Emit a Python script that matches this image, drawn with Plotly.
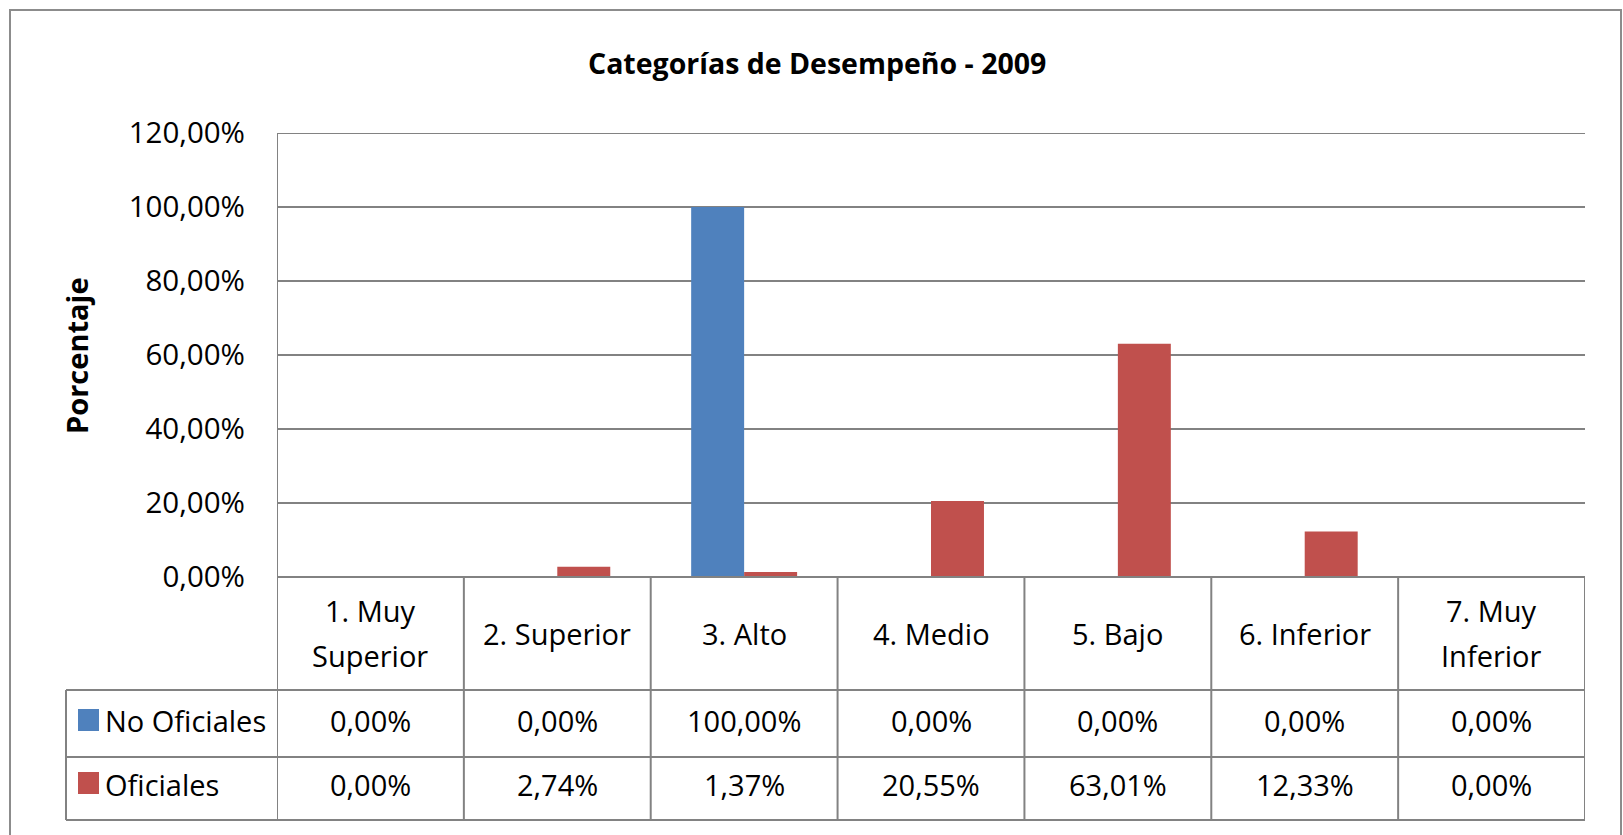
import plotly.graph_objects as go

# ---------------- data ----------------
categories = ["1. Muy Superior", "2. Superior", "3. Alto", "4. Medio",
              "5. Bajo", "6. Inferior", "7. Muy Inferior"]
header_labels = ["1. Muy<br>Superior", "2. Superior", "3. Alto", "4. Medio",
                 "5. Bajo", "6. Inferior", "7. Muy<br>Inferior"]
series_names = ["No Oficiales", "Oficiales"]
no_oficiales = [0.00, 0.00, 100.00, 0.00, 0.00, 0.00, 0.00]
oficiales = [0.00, 2.74, 1.37, 20.55, 63.01, 12.33, 0.00]
series_values = [no_oficiales, oficiales]
series_colors = ["#4F81BD", "#C0504D"]
y_ticks = [0, 20, 40, 60, 80, 100, 120]
title_text = "Categorías de Desempeño - 2009"
y_title = "Porcentaje"


def fmt(v):
    return f"{v:.2f}".replace(".", ",") + "%"


# ---------------- geometry (pixels) ----------------
W, H = 1623, 835
L, R, T, B = 277, 1585, 133, 577
PW, PH = R - L, B - T
FONT = "Open Sans"
GRID = "#828282"


def px(x):
    return (x - L) / PW


def py(y):
    return (B - y) / PH


fig = go.Figure()
for name, vals, col in zip(series_names, series_values, series_colors):
    fig.add_trace(go.Bar(x=categories, y=vals, name=name,
                         marker=dict(color=col, line=dict(width=0)),
                         hoverinfo="x+y"))

row_tops = [py(577), py(690), py(757), py(820)]
shapes = []
line = dict(color=GRID, width=2)
# outer chart border
shapes.append(dict(type="rect", xref="paper", yref="paper",
                   x0=px(10), x1=px(1621), y0=py(850), y1=py(10),
                   line=dict(color="#8C8C8C", width=2), fillcolor="rgba(0,0,0,0)"))
# top gridline (120 %)
shapes.append(dict(type="line", xref="paper", yref="y", x0=0, x1=1,
                   y0=y_ticks[-1], y1=y_ticks[-1], line=line, layer="below"))
# plot-area left edge
shapes.append(dict(type="line", xref="x", yref="paper", x0=-0.5, x1=-0.5,
                   y0=1, y1=row_tops[3], line=line))
# column separators in table
for i in range(1, len(categories) + 1):
    shapes.append(dict(type="line", xref="x", yref="paper", x0=i - 0.5, x1=i - 0.5,
                       y0=row_tops[0], y1=row_tops[3], line=line))
# header top (axis baseline)
shapes.append(dict(type="line", xref="paper", yref="paper", x0=0, x1=1,
                   y0=row_tops[0], y1=row_tops[0], line=line))
# rows
for yy in row_tops[1:]:
    shapes.append(dict(type="line", xref="paper", yref="paper", x0=px(66), x1=1,
                       y0=yy, y1=yy, line=line))
# legend column left edge
shapes.append(dict(type="line", xref="paper", yref="paper", x0=px(66), x1=px(66),
                   y0=row_tops[1], y1=row_tops[3], line=line))
# legend keys
key_rows = [(709, 731), (772, 794)]
for (ya, yb), col in zip(key_rows, series_colors):
    shapes.append(dict(type="rect", xref="paper", yref="paper",
                       x0=px(78), x1=px(99), y0=py(yb), y1=py(ya),
                       line=dict(width=0), fillcolor=col))

annotations = []
cell_font = dict(family=FONT, size=29, color="#000000")
# header labels (one annotation per text line, Excel-like line spacing)
for cat, lab in zip(categories, header_labels):
    parts = lab.split("<br>")
    n = len(parts)
    for k, part in enumerate(parts):
        yc = 633 + (k - (n - 1) / 2) * 45
        annotations.append(dict(x=cat, y=py(yc), xref="x", yref="paper", text=part,
                                showarrow=False, font=cell_font, xanchor="center",
                                yanchor="middle", align="center"))
# values
row_centers = [720, 784]
for name, vals, yc in zip(series_names, series_values, row_centers):
    annotations.append(dict(x=px(103), y=py(yc), xref="paper", yref="paper",
                            text=name, showarrow=False, font=cell_font,
                            xanchor="left", yanchor="middle"))
    for cat, v in zip(categories, vals):
        annotations.append(dict(x=cat, y=py(yc), xref="x", yref="paper",
                                text=fmt(v), showarrow=False, font=cell_font,
                                xanchor="center", yanchor="middle"))
# y axis title
annotations.append(dict(x=px(76), y=py(356), xref="paper", yref="paper",
                        text=f"<b>{y_title}</b>", textangle=-90, showarrow=False,
                        font=dict(family=FONT, size=29, color="#000000"),
                        xanchor="center", yanchor="middle"))

fig.update_layout(
    width=W, height=H, autosize=False,
    margin=dict(l=L, r=W - R, t=T, b=H - B, pad=0),
    paper_bgcolor="white", plot_bgcolor="white",
    barmode="group", bargap=0.433, bargroupgap=0,
    showlegend=False,
    title=dict(text=f"<b>{title_text}</b>", xref="container", yref="container",
               x=0.5035, y=1 - 64 / H, xanchor="center", yanchor="middle",
               font=dict(family=FONT, size=28.5, color="#000000")),
    xaxis=dict(range=[-0.5, len(categories) - 0.5], showticklabels=False,
               showgrid=False, zeroline=False, showline=False, ticks=""),
    yaxis=dict(range=[0, 120], tickvals=y_ticks, ticktext=[fmt(v) for v in y_ticks],
               showgrid=True, gridcolor=GRID, gridwidth=2, zeroline=False,
               showline=False, ticks="", ticklabelstandoff=31,
               tickfont=dict(family=FONT, size=29.5, color="#000000")),
    shapes=shapes, annotations=annotations,
    font=dict(family=FONT, color="#000000"),
)

fig.write_html("out.html", config={"displayModeBar": False},
               post_script="document.body.style.margin='0';")
